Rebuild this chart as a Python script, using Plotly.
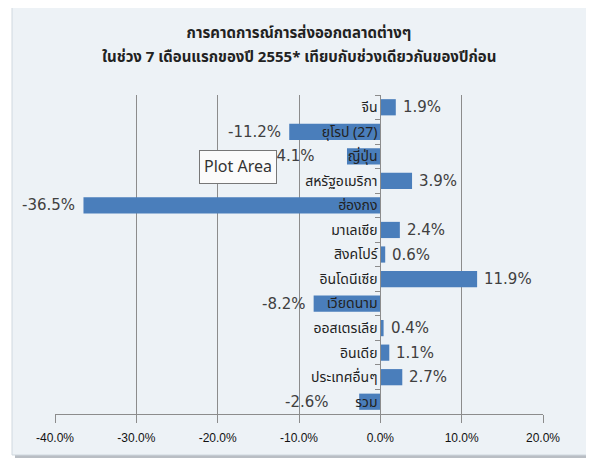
import plotly.graph_objects as go

BAR_BLUE = "#4a7ebb"
GRID_GRAY = "#8c8c8c"
TEXT_DARK = "#404040"
FONT = "Tahoma, 'Noto Sans Thai', 'Noto Sans', sans-serif"
LABEL_FONT = "'DejaVu Sans', Verdana, sans-serif"

markets = [
    "จีน",
    "ยุโรป (27)",
    "ญี่ปุ่น",
    "สหรัฐอเมริกา",
    "ฮ่องกง",
    "มาเลเซีย",
    "สิงคโปร์",
    "อินโดนีเซีย",
    "เวียดนาม",
    "ออสเตรเลีย",
    "อินเดีย",
    "ประเทศอื่นๆ",
    "รวม",
]
growth = [1.9, -11.2, -4.1, 3.9, -36.5, 2.4, 0.6, 11.9, -8.2, 0.4, 1.1, 2.7, -2.6]
x_ticks = [-40, -30, -20, -10, 0, 10, 20]
x_tick_labels = ["-40.0%", "-30.0%", "-20.0%", "-10.0%", "0.0%", "10.0%", "20.0%"]

title_line1 = "การคาดการณ์การส่งออกตลาดต่างๆ"
title_line2 = "ในช่วง 7 เดือนแรกของปี 2555* เทียบกับช่วงเดียวกันของปีก่อน"

# labels that were pushed left in the original so they clear the category name
label_nudge = {"ญี่ปุ่น": -24, "รวม": -22}

fig = go.Figure(
    go.Bar(
        x=growth,
        y=markets,
        orientation="h",
        marker=dict(color=BAR_BLUE, line=dict(width=0)),
        width=0.66,
        hoverinfo="x+y",
    )
)

for name, v in zip(markets, growth):
    fig.add_annotation(
        x=v,
        y=name,
        text=f"{v:.1f}%",
        showarrow=False,
        xanchor="left" if v >= 0 else "right",
        yanchor="middle",
        xshift=(5 if v >= 0 else -6) + label_nudge.get(name, 0),
        font=dict(size=15, color=TEXT_DARK, family=LABEL_FONT),
    )

# chart frame with a small drop shadow (Excel chart box)
fig.add_shape(
    type="rect", xref="paper", yref="paper",
    x0=-0.082, x1=1.098, y0=-0.138, y1=1.28,
    fillcolor="#b9bec4", line=dict(width=0), layer="below",
)
fig.add_shape(
    type="rect", xref="paper", yref="paper",
    x0=-0.0881, x1=1.0922, y0=-0.1285, y1=1.2884,
    fillcolor="#edf2f6", line=dict(color="#d0d8df", width=1), layer="below",
)

fig.add_annotation(
    text=title_line2,
    xref="paper", yref="paper",
    x=0.5, y=(406 - 49) / 319,
    xanchor="center", yanchor="middle",
    showarrow=False,
    font=dict(size=15, color="#222222", family=FONT, weight="bold"),
)

fig.add_annotation(
    text="Plot Area",
    xref="paper", yref="paper",
    x=0.375, y=0.774,
    xanchor="center", yanchor="middle",
    showarrow=False,
    font=dict(size=16, color="#333333", family=FONT),
    bgcolor="#fbfbfb",
    bordercolor="#777777",
    borderwidth=1,
    borderpad=4,
)

fig.update_layout(
    width=586,
    height=455,
    margin=dict(l=47, r=51, t=87, b=49, autoexpand=False),
    paper_bgcolor="white",
    plot_bgcolor="rgba(0,0,0,0)",
    showlegend=False,
    bargap=0.34,
    font=dict(family=FONT, color="#222222"),
    title=dict(
        text=title_line1,
        x=0.5,
        xref="paper",
        xanchor="center",
        y=1 - 25 / 455,
        yref="container",
        yanchor="middle",
        font=dict(size=15, color="#222222", family=FONT, weight="bold"),
    ),
    xaxis=dict(
        range=[-40, 20],
        tickvals=x_ticks,
        ticktext=x_tick_labels,
        automargin=False,
        showgrid=True,
        gridcolor=GRID_GRAY,
        gridwidth=1,
        zeroline=False,
        showline=True,
        linecolor=GRID_GRAY,
        ticks="outside",
        ticklen=8,
        tickcolor=GRID_GRAY,
        ticklabelstandoff=5,
        tickfont=dict(size=12, color="#111111", family="Arial, 'Liberation Sans', sans-serif"),
        fixedrange=True,
    ),
    yaxis=dict(
        autorange="reversed",
        anchor="free",
        position=2 / 3,
        automargin=False,
        showline=True,
        linecolor=GRID_GRAY,
        ticks="outside",
        ticklen=5,
        tickcolor=GRID_GRAY,
        tickson="boundaries",
        showgrid=False,
        tickfont=dict(size=14, color="#222222", family=FONT),
        layer="above traces",
    ),
)

fig.write_html("out.html")
